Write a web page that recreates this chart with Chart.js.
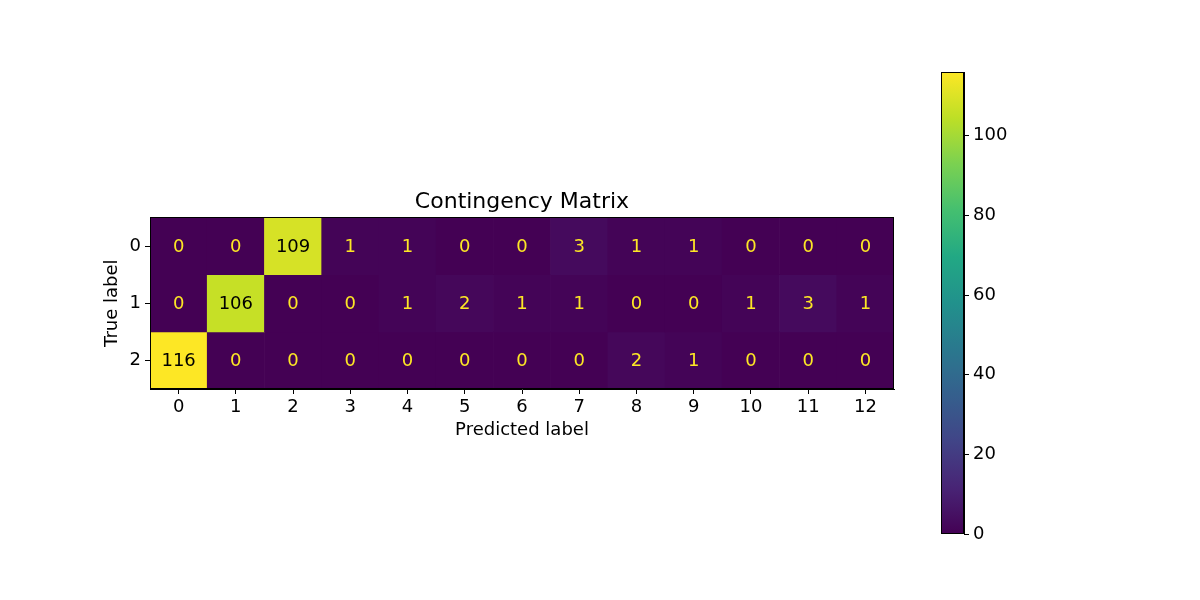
<!DOCTYPE html>
<html>
<head>
<meta charset="utf-8">
<script src="https://cdn.jsdelivr.net/npm/chart.js@4"></script>
<style>
  body { margin: 0; background: #fff; }
  #wrap { position: relative; width: 1200px; height: 600px; }
  #matrix { position: absolute; left: 0; top: 0; }
  #cbar { position: absolute; left: 920px; top: 0; }
</style>
</head>
<body>
<div id="wrap">
  <canvas id="matrix" width="910" height="600"></canvas>
  <canvas id="cbar" width="120" height="600"></canvas>
</div>
<script>
const predLabels = ['0', '1', '2', '3', '4', '5', '6', '7', '8', '9', '10', '11', '12'];
const trueLabels = ['0', '1', '2'];
const row0 = [0, 0, 109, 1, 1, 0, 0, 3, 1, 1, 0, 0, 0];
const row1 = [0, 106, 0, 0, 1, 2, 1, 1, 0, 0, 1, 3, 1];
const row2 = [116, 0, 0, 0, 0, 0, 0, 0, 2, 1, 0, 0, 0];
const rows = [row0, row1, row2];
const cbarTicks = [0, 20, 40, 60, 80, 100];

const FONT = 'DejaVu Sans';
const vmin = 0;
const vmax = Math.max(...rows.flat());

// viridis samples at 0, 0.1, ... 1
const viridis = ['#440154', '#482475', '#414487', '#355f8d', '#2a788e', '#21918c',
  '#22a884', '#44bf70', '#7ad151', '#bddf26', '#fde725'];

const hexToRgb = (h) => [1, 3, 5].map(i => parseInt(h.slice(i, i + 2), 16));

function cmap(t) {
  t = Math.min(1, Math.max(0, t));
  const p = t * (viridis.length - 1);
  const i = Math.min(Math.floor(p), viridis.length - 2);
  const f = p - i;
  const a = hexToRgb(viridis[i]);
  const b = hexToRgb(viridis[i + 1]);
  const c = a.map((v, k) => Math.round(v + (b[k] - v) * f));
  return `rgb(${c[0]},${c[1]},${c[2]})`;
}

const norm = v => (v - vmin) / (vmax - vmin);

const frame = {
  id: 'frame',
  afterDraw(chart) {
    const { ctx, chartArea: a } = chart;
    ctx.save();
    ctx.strokeStyle = '#000';
    ctx.lineWidth = 1;
    ctx.strokeRect(Math.round(a.left) + 0.5, Math.round(a.top) + 0.5,
      Math.round(a.right - a.left) - 1, Math.round(a.bottom - a.top) - 1);
    ctx.restore();
  }
};

const cellText = {
  id: 'cellText',
  afterDatasetsDraw(chart) {
    const { ctx, scales: { x, y } } = chart;
    const thresh = (vmax + vmin) / 2;
    ctx.save();
    ctx.font = `18px "${FONT}"`;
    ctx.textAlign = 'center';
    ctx.textBaseline = 'middle';
    rows.forEach((row, r) => {
      row.forEach((v, c) => {
        ctx.fillStyle = v < thresh ? '#fde725' : '#000';
        ctx.fillText(String(v), x.getPixelForValue(c), y.getPixelForValue(r) + 1);
      });
    });
    ctx.restore();
  }
};

const tickFont = { family: FONT, size: 18 };

new Chart(document.getElementById('matrix'), {
  type: 'bar',
  data: {
    labels: predLabels,
    datasets: rows.map((row, r) => ({
      label: 'True ' + trueLabels[r],
      data: row.map(() => [r - 0.5, r + 0.5]),
      backgroundColor: row.map(v => cmap(norm(v))),
      borderWidth: 0,
      barPercentage: 1,
      categoryPercentage: 1,
      grouped: false,
    })),
  },
  options: {
    responsive: false,
    animation: false,
    layout: { padding: { left: 100, top: 189, right: 16, bottom: 151 } },
    plugins: {
      legend: { display: false },
      tooltip: { enabled: false },
      title: {
        display: true,
        text: 'Contingency Matrix',
        fullSize: false,
        color: '#000',
        font: { family: FONT, size: 22, weight: 'normal' },
        padding: { top: 0, bottom: 2 },
      },
    },
    scales: {
      x: {
        type: 'category',
        offset: true,
        afterFit: s => { s.height = 60; },
        grid: { display: true, drawOnChartArea: false, drawTicks: true, tickLength: 5, color: '#000', offset: false },
        border: { display: true, color: '#000' },
        ticks: { color: '#000', font: tickFont, padding: 3, maxRotation: 0 },
        title: {
          display: true,
          text: 'Predicted label',
          color: '#000',
          font: { family: FONT, size: 18 },
          padding: { top: 0, bottom: 8 },
        },
      },
      y: {
        type: 'linear',
        reverse: true,
        min: -0.5,
        max: 2.5,
        afterFit: s => { s.width = 50; },
        afterBuildTicks: s => { s.ticks = trueLabels.map((t, i) => ({ value: i })); },
        grid: { display: true, drawOnChartArea: false, drawTicks: true, tickLength: 5, color: '#000' },
        border: { display: true, color: '#000' },
        ticks: { color: '#000', font: tickFont, padding: 4, callback: v => trueLabels[v] },
        title: {
          display: true,
          text: 'True label',
          color: '#000',
          font: { family: FONT, size: 18 },
          padding: { top: 2, bottom: 0 },
        },
      },
    },
  },
  plugins: [cellText, frame],
});

new Chart(document.getElementById('cbar'), {
  type: 'bar',
  data: {
    labels: [''],
    datasets: [{
      data: [[vmin, vmax]],
      borderWidth: 0,
      barPercentage: 1,
      categoryPercentage: 1,
      backgroundColor: (c) => {
        const { chart } = c;
        const y = chart.scales.y;
        if (!y || !chart.chartArea) return viridis[0];
        const g = chart.ctx.createLinearGradient(0, y.getPixelForValue(vmin), 0, y.getPixelForValue(vmax));
        for (let i = 0; i <= 20; i++) g.addColorStop(i / 20, cmap(i / 20));
        return g;
      },
    }],
  },
  options: {
    responsive: false,
    animation: false,
    layout: { padding: { left: 21, top: 72, right: 10, bottom: 66 } },
    plugins: { legend: { display: false }, tooltip: { enabled: false } },
    scales: {
      x: { display: false },
      y: {
        position: 'right',
        min: vmin,
        max: vmax,
        afterFit: s => { s.width = 66; },
        afterBuildTicks: s => { s.ticks = cbarTicks.map(v => ({ value: v })); },
        grid: { display: true, drawOnChartArea: false, drawTicks: true, tickLength: 5, color: '#000' },
        border: { display: true, color: '#000' },
        ticks: { color: '#000', font: tickFont, padding: 4 },
      },
    },
  },
  plugins: [frame],
});
</script>
</body>
</html>
